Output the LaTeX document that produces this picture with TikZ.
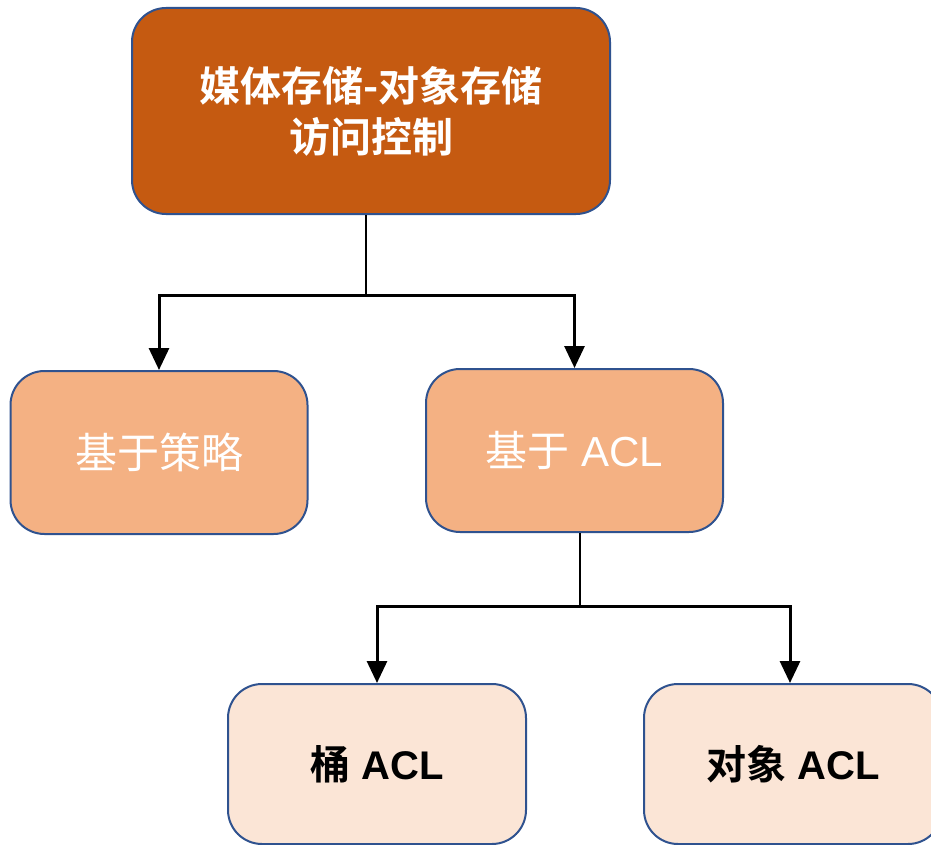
\documentclass[tikz,border=0pt]{standalone}
\usepackage{fontspec}
\setmainfont{Liberation Sans}
\newfontfamily\cjk{Noto Sans CJK SC}[BoldFont={* Bold}]
\usetikzlibrary{positioning,arrows.meta,calc}
\definecolor{rootfill}{HTML}{C55A11}
\definecolor{midfill}{HTML}{F4B183}
\definecolor{leaffill}{HTML}{FBE5D6}
\definecolor{boxline}{HTML}{2F528F}
\tikzstyle{box} = [draw=boxline,line width=2pt,rounded corners=34pt,align=center,inner sep=0]
\tikzstyle{rootbox} = [box,fill=rootfill,text=white,minimum width=478pt,minimum height=206pt,
                       font=\fontsize{41}{53}\selectfont\bfseries]
\tikzstyle{midbox} = [box,fill=midfill,text=white,minimum width=297pt,minimum height=163pt,
                      font=\fontsize{42}{50}\selectfont]
\tikzstyle{leafbox} = [box,fill=leaffill,text=black,minimum width=298pt,minimum height=160pt,
                       font=\fontsize{40}{48}\selectfont\bfseries]
\tikzstyle{stem} = [line width=1.8pt]
\tikzstyle{arr} = [line width=3pt,-{Triangle[width=20pt,length=22pt]}]

\begin{document}
\begin{tikzpicture}[x=1pt,y=-1pt]
  \useasboundingbox[fill=white] (0,0) rectangle (931,845);

  \node[rootbox] (root)   at (371,111)   {\cjk 媒体存储-对象存储\\[-2pt]\cjk 访问控制};
  \node[midbox]  (policy) at (159,452.5) {\cjk 基于策略};
  \node[midbox]  (acl)    at (574.5,450.5) {{\cjk 基于} ACL};
  \node[leafbox] (bucket) at (377,764)   {{\cjk 桶} ACL};
  \node[leafbox] (object) at (793,764)   {{\cjk 对象} ACL};

  \coordinate (j1) at (366,295);
  \coordinate (j2) at (580,606);

  \draw[stem] (root.south -| j1) -- (j1);
  \draw[arr] (j1) -| (policy.north);
  \draw[arr] (j1) -| (acl.north);

  \draw[stem] (acl.south -| j2) -- (j2);
  \draw[arr] (j2) -| (bucket.north);
  \draw[arr] (j2) -| ($(object.north)+(-3,0)$);
\end{tikzpicture}
\end{document}
